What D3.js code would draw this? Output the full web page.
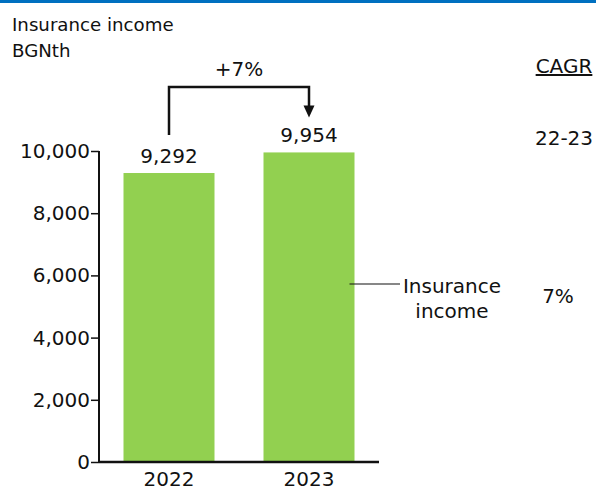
<!DOCTYPE html>
<html><head><meta charset="utf-8">
<script src="https://cdn.jsdelivr.net/npm/d3@7/dist/d3.min.js"></script>
<style>
body{margin:0;background:#fff;}
svg text{font-family:Verdana,"DejaVu Sans",sans-serif;fill:#111;}
</style></head>
<body><svg id="c" width="596" height="488"></svg>
<script>
const categories = ["2022", "2023"];
const values = [9292, 9954];
const yTicks = [0, 2000, 4000, 6000, 8000, 10000];
const seriesName = ["Insurance", "income"];
const growthLabel = "+7%";
const cagrHeader = "CAGR";
const cagrPeriod = "22-23";
const cagrValues = ["7%"];
const titleLines = ["Insurance income", "BGNth"];

const svg = d3.select("#c");
const fs = 20;
const ff = "Verdana, 'DejaVu Sans', sans-serif";

svg.append("rect").attr("x",0).attr("y",0).attr("width",596).attr("height",3).attr("fill","#0070c0");

svg.selectAll("text.title").data(titleLines).join("text").attr("class","title")
  .attr("x",12).attr("y",(d,i)=>31+i*26).attr("font-size",18.2).text(d=>d);

const x = d3.scaleBand().domain(categories).range([99,379]).paddingInner(0.35).paddingOuter(0.175);
const y = d3.scaleLinear().domain([0,10000]).range([462,151]);

svg.selectAll("rect.bar").data(values).join("rect").attr("class","bar")
  .attr("x",(d,i)=>x(categories[i])).attr("y",d=>y(d))
  .attr("width",x.bandwidth()).attr("height",d=>y(0)-y(d)).attr("fill","#92d050");

const yAxis = svg.append("g").attr("transform","translate(99,0)")
  .call(d3.axisLeft(y).tickValues(yTicks).tickFormat(d3.format(",")).tickSize(8).tickPadding(1));
yAxis.select(".domain").attr("stroke","#111").attr("stroke-width",2).attr("d","M0,"+y(10000)+"V"+y(0));
yAxis.selectAll(".tick line").attr("stroke","#111").attr("stroke-width",1.5);
yAxis.selectAll(".tick text").attr("font-size",fs).attr("font-family",ff).attr("fill","#111");

const xAxis = svg.append("g").attr("transform","translate(0,"+y(0)+")")
  .call(d3.axisBottom(x).tickSize(0));
xAxis.select(".domain").attr("stroke","#111").attr("stroke-width",2.5).attr("d","M99,0H379");
xAxis.selectAll(".tick text").attr("font-size",fs).attr("font-family",ff).attr("fill","#111")
  .attr("y",24).attr("dy","0");

svg.selectAll("text.val").data(values).join("text").attr("class","val")
  .attr("x",(d,i)=>x(categories[i])+x.bandwidth()/2).attr("y",d=>y(d)-10)
  .attr("text-anchor","middle").attr("font-size",fs).text(d=>d3.format(",")(d));

// growth bracket
const cx0 = x(categories[0])+x.bandwidth()/2, cx1 = x(categories[1])+x.bandwidth()/2;
const topY = 87;
svg.append("path").attr("fill","none").attr("stroke","#111").attr("stroke-width",2.5)
  .attr("d",`M${cx0},${y(values[0])-38}V${topY}H${cx1}V${y(values[1])-46}`);
svg.append("path").attr("fill","#111")
  .attr("d",`M${cx1-5.5},${y(values[1])-47}L${cx1+5.5},${y(values[1])-47}L${cx1},${y(values[1])-35}Z`);
svg.append("text").attr("x",(cx0+cx1)/2).attr("y",76).attr("text-anchor","middle").attr("font-size",fs).text(growthLabel);

// legend label
svg.append("line").attr("x1",x(categories[1])+x.bandwidth()-5).attr("x2",400).attr("y1",284).attr("y2",284).attr("stroke","#111").attr("stroke-width",1.2);
svg.selectAll("text.leg").data(seriesName).join("text").attr("class","leg")
  .attr("x",452).attr("y",(d,i)=>293+i*25).attr("text-anchor","middle").attr("font-size",fs).text(d=>d);

// CAGR column
svg.append("text").attr("x",564).attr("y",73).attr("text-anchor","middle").attr("font-size",fs).attr("text-decoration","underline").text(cagrHeader);
svg.append("text").attr("x",564).attr("y",145).attr("text-anchor","middle").attr("font-size",fs).text(cagrPeriod);
svg.selectAll("text.cagr").data(cagrValues).join("text").attr("class","cagr")
  .attr("x",558).attr("y",303).attr("text-anchor","middle").attr("font-size",fs).text(d=>d);
</script></body></html>
